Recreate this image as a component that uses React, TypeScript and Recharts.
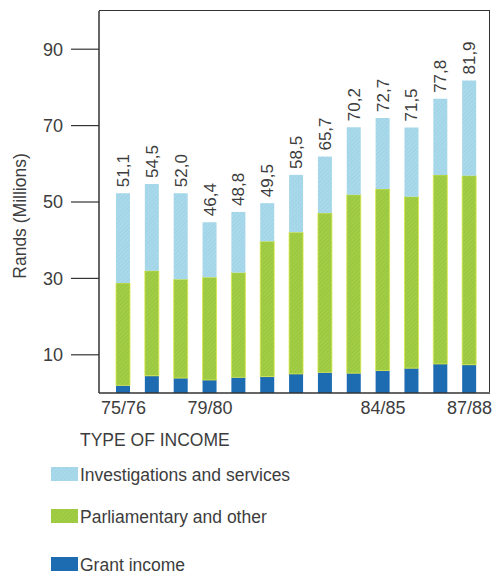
import { Bar, BarChart, LabelList, Legend, XAxis, YAxis } from "recharts";

// financial years (only some are printed under the axis)
const periods = ["75/76", "76/77", "77/78", "78/79", "79/80", "80/81", "81/82", "82/83", "83/84", "84/85", "85/86", "86/87", "87/88"];
const tickLabels = ["75/76", "", "", "79/80", "", "", "", "", "", "84/85", "", "", "87/88"];
const yTicks = [10, 30, 50, 70, 90];

// segment heights in R millions, as drawn
const grantIncome = [2.0, 4.5, 3.9, 3.4, 4.1, 4.3, 5.0, 5.4, 5.2, 5.9, 6.5, 7.6, 7.4];
const parliamentary = [26.8, 27.5, 25.9, 26.9, 27.4, 35.4, 37.1, 41.7, 46.7, 47.5, 44.9, 49.5, 49.5];
const investigations = [23.5, 22.7, 22.5, 14.4, 15.9, 10.0, 15.0, 14.8, 17.7, 18.6, 18.1, 19.9, 24.9];
// totals as printed above the bars
const totalLabels = ["51,1", "54,5", "52,0", "46,4", "48,8", "49,5", "58,5", "65,7", "70,2", "72,7", "71,5", "77,8", "81,9"];

const data = periods.map((period, i) => ({
  period,
  grant: grantIncome[i],
  parliamentary: parliamentary[i],
  investigations: investigations[i],
}));

const WIDTH = 496;
const HEIGHT = 578;
const MARGIN = { top: 11, right: 6, left: 0, bottom: 155 };
const Y_AXIS_WIDTH = 99;
const X_AXIS_HEIGHT = 30;
const FONT = "'Liberation Sans', Arial, sans-serif";
const TEXT = "#3d3d3d";

function TotalLabel(props: any) {
  const { x, y, width, index } = props;
  const cx = Number(x) + Number(width) / 2;
  return (
    <text
      transform={`translate(${cx + 6},${Number(y) - 6}) rotate(-90)`}
      fill={TEXT}
      fontSize={17}
      fontFamily={FONT}
      textAnchor="start"
    >
      {totalLabels[index]}
    </text>
  );
}

function YTitle(props: any) {
  const { viewBox } = props;
  const cy = Number(viewBox.y) + Number(viewBox.height) / 2 + 14;
  return (
    <text
      transform={`translate(26,${cy}) rotate(-90)`}
      fill={TEXT}
      fontSize={17.5}
      fontFamily={FONT}
      textAnchor="middle"
    >
      Rands (Millions)
    </text>
  );
}

const legendRows = [
  { key: "investigations", top: 467 },
  { key: "parliamentary", top: 509 },
  { key: "grant", top: 557 },
];

// plot box: the axes draw left and bottom, this adds top and right
const frameStyle = {
  position: "absolute" as const,
  left: MARGIN.left + Y_AXIS_WIDTH,
  top: MARGIN.top - 0.75,
  width: WIDTH - MARGIN.left - MARGIN.right - Y_AXIS_WIDTH,
  height: HEIGHT - MARGIN.top - MARGIN.bottom - X_AXIS_HEIGHT,
  borderTop: "1.5px solid #333",
  borderRight: "1.5px solid #333",
  boxSizing: "border-box" as const,
};

function LegendBox(props: any) {
  const payload: any[] = props.payload || [];
  return (
    <div style={{ position: "relative", width: WIDTH, height: HEIGHT, fontFamily: FONT, color: TEXT, fontSize: 17.5, lineHeight: "17px" }}>
      <div style={frameStyle} />
      <div style={{ position: "absolute", left: 80, top: 432, whiteSpace: "nowrap" }}>TYPE OF INCOME</div>
      {legendRows.map((row) => {
        const entry = payload.find((p) => p.dataKey === row.key);
        if (!entry) return null;
        return (
          <div key={row.key}>
            <svg style={{ position: "absolute", left: 51, top: row.top }} width={27} height={14}>
              <rect width={27} height={14} fill={entry.color} />
            </svg>
            <div style={{ position: "absolute", left: 80, top: row.top, whiteSpace: "nowrap" }}>{entry.value}</div>
          </div>
        );
      })}
    </div>
  );
}

export default function App() {
  return (
    <div style={{ position: "absolute", left: 0, top: 0, background: "#fff" }}>
      <BarChart width={WIDTH} height={HEIGHT} data={data} margin={MARGIN}>
        <defs>
          <pattern id="hatchBlue" width="3" height="3" patternUnits="userSpaceOnUse" patternTransform="rotate(45)">
            <rect width="3" height="3" fill="#a9d9ea" />
            <line x1="0" y1="0" x2="0" y2="3" stroke="#93cde2" strokeWidth="1" />
          </pattern>
          <pattern id="hatchGreen" width="3" height="3" patternUnits="userSpaceOnUse" patternTransform="rotate(45)">
            <rect width="3" height="3" fill="#a2cd45" />
            <line x1="0" y1="0" x2="0" y2="3" stroke="#8fc03a" strokeWidth="1" />
          </pattern>
        </defs>
        <XAxis
          dataKey="period"
          interval={0}
          padding={{ left: 10, right: 6 }}
          tickFormatter={(_v: any, i: number) => tickLabels[i]}
          tickLine={false}
          tickSize={0}
          tickMargin={8}
          height={X_AXIS_HEIGHT}
          axisLine={{ stroke: "#333", strokeWidth: 1.5 }}
          tick={{ fill: TEXT, fontSize: 18, fontFamily: FONT }}
        />
        <YAxis
          domain={[0, 100]}
          ticks={yTicks}
          width={Y_AXIS_WIDTH}
          tickSize={28}
          tickMargin={8}
          axisLine={{ stroke: "#333", strokeWidth: 1.5 }}
          tickLine={{ stroke: "#333", strokeWidth: 1.2 }}
          tick={{ fill: TEXT, fontSize: 18, fontFamily: FONT }}
          label={<YTitle />}
        />
        <Legend
          layout="horizontal"
          verticalAlign="middle"
          align="center"
          content={<LegendBox />}
          wrapperStyle={{ left: 0, top: 0, width: WIDTH, height: HEIGHT, pointerEvents: "none" }}
        />
        <Bar dataKey="grant" name="Grant income" stackId="a" fill="#1d6cb1" barSize={14} isAnimationActive={false} />
        <Bar
          dataKey="parliamentary"
          name="Parliamentary and other"
          stackId="a"
          fill="url(#hatchGreen)"
          stroke="#dbe84a"
          strokeWidth={0.8}
          barSize={14}
          isAnimationActive={false}
        />
        <Bar
          dataKey="investigations"
          name="Investigations and services"
          stackId="a"
          fill="url(#hatchBlue)"
          barSize={14}
          isAnimationActive={false}
        >
          <LabelList dataKey="investigations" content={<TotalLabel />} />
        </Bar>
      </BarChart>
    </div>
  );
}
